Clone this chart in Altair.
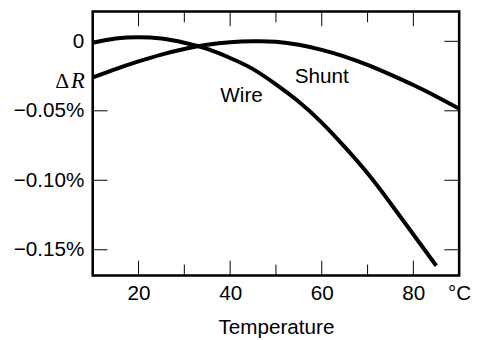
import altair as alt
import pandas as pd

# Data (values in percent)
temps = [10, 15, 20, 25, 30, 35, 40, 45, 50, 55, 60, 65, 70, 75, 80, 85]
wire = [-0.001, 0.002, 0.003, 0.002, -0.001, -0.0055, -0.012, -0.020, -0.031,
        -0.0435, -0.0585, -0.076, -0.095, -0.1165, -0.139, -0.1615]
shunt_temps = [10, 15, 20, 25, 30, 35, 40, 45, 50, 55, 60, 65, 70, 75, 80, 85, 90]
shunt = [-0.026, -0.020, -0.0145, -0.0095, -0.0055, -0.0025, -0.0007, 0.0, -0.0003,
         -0.0025, -0.0062, -0.011, -0.017, -0.024, -0.0315, -0.0397, -0.0485]

x_major = [20, 40, 60, 80]
x_minor = [30, 50, 70]
x_label_values = [20, 40, 60, 80, 90]
y_ticks = [0, -0.05, -0.10, -0.15]

label_names = ["Wire", "Shunt"]
label_x = [42.5, 60.0]
label_y = [-0.0394, -0.0257]

W, H = 372, 268
FONT = "Liberation Sans"
FS = 21

df_lines = pd.DataFrame(
    {"T": temps + shunt_temps,
     "dR": wire + shunt,
     "series": ["Wire"] * len(temps) + ["Shunt"] * len(shunt_temps)}
)

xscale = alt.Scale(domain=[10, 90], nice=False, zero=False)
yscale = alt.Scale(domain=[-0.1685, 0.0215], nice=False, zero=False)

lines = alt.Chart(df_lines).mark_line(
    color="black", strokeWidth=4, interpolate="natural", clip=True
).encode(
    x=alt.X("T:Q", scale=xscale, title="Temperature",
            axis=alt.Axis(values=x_label_values, ticks=False, domain=False, grid=False,
                          labelExpr="datum.value == 90 ? '°C' : datum.label",
                          labelFlush=False, labelOverlap=False, labelBound=False,
                          labelFont=FONT, labelFontSize=FS, labelColor="black",
                          labelPadding=7, titleFont=FONT, titleFontSize=FS,
                          titleFontWeight="normal", titleColor="black", titlePadding=14)),
    y=alt.Y("dR:Q", scale=yscale, title=None,
            axis=alt.Axis(values=y_ticks, ticks=False, domain=False, grid=False,
                          labelExpr="datum.value == 0 ? '0' : format(datum.value, '.2f') + '%'",
                          labelFont=FONT, labelFontSize=FS, labelColor="black",
                          labelPadding=9, labelOverlap=False, labelBound=False)),
    detail="series:N",
)

df_xmaj = pd.DataFrame({"t": x_major})
df_xmin = pd.DataFrame({"t": x_minor})
df_y = pd.DataFrame({"t": y_ticks})

def xticks(df, length):
    top = alt.Chart(df).mark_rule(color="black", strokeWidth=1).encode(
        x=alt.X("t:Q", scale=xscale), y=alt.value(0), y2=alt.value(length))
    bot = alt.Chart(df).mark_rule(color="black", strokeWidth=1).encode(
        x=alt.X("t:Q", scale=xscale), y=alt.value(H), y2=alt.value(H - length))
    return top + bot

left_ticks = alt.Chart(df_y).mark_rule(color="black", strokeWidth=1).encode(
    y=alt.Y("t:Q", scale=yscale), x=alt.value(0), x2=alt.value(15))
right_ticks = alt.Chart(df_y).mark_rule(color="black", strokeWidth=1).encode(
    y=alt.Y("t:Q", scale=yscale), x=alt.value(W), x2=alt.value(W - 15))

df_labels = pd.DataFrame({"name": label_names, "x": label_x, "y": label_y})
labels = alt.Chart(df_labels).mark_text(
    font=FONT, fontSize=FS, color="black", align="center", baseline="middle"
).encode(x=alt.X("x:Q", scale=xscale), y=alt.Y("y:Q", scale=yscale), text="name:N")

df_dr = pd.DataFrame({"y": [-0.0285]})
delta = alt.Chart(df_dr).mark_text(
    text="Δ", font="Liberation Serif", fontSize=22, color="black",
    align="right", baseline="middle"
).encode(y=alt.Y("y:Q", scale=yscale), x=alt.value(-24))
rr = alt.Chart(df_dr).mark_text(
    text="R", font="Liberation Serif", fontSize=23, fontStyle="italic", color="black",
    align="right", baseline="middle"
).encode(y=alt.Y("y:Q", scale=yscale), x=alt.value(-8))

chart = alt.layer(
    lines, xticks(df_xmaj, 15), xticks(df_xmin, 11), left_ticks, right_ticks,
    labels, delta, rr
).properties(
    width=W, height=H,
    autosize=alt.AutoSizeParams(type="none"),
    padding={"left": 86, "top": 1, "right": 12, "bottom": 62},
    background="white",
).configure_view(stroke="black", strokeWidth=2.6)

chart.save("out.html", embed_options={"renderer": "svg", "actions": False})
